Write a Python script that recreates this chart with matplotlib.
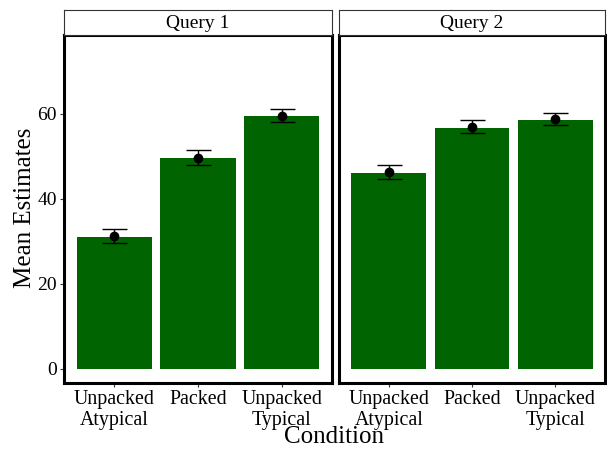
import matplotlib.pyplot as plt
import numpy as np

plt.rcParams['font.family'] = ['Liberation Serif', 'DejaVu Serif']

conditions = ['Unpacked\nAtypical', 'Packed', 'Unpacked\nTypical']
queries = ['Query 1', 'Query 2']
bar_q1 = [31.0, 49.7, 59.6]
bar_q2 = [46.1, 56.8, 58.6]
mean_q1 = [31.2, 49.7, 59.6]
mean_q2 = [46.3, 57.0, 58.8]
lo_q1 = [29.6, 48.0, 58.0]
hi_q1 = [32.8, 51.4, 61.2]
lo_q2 = [44.6, 55.4, 57.3]
hi_q2 = [48.0, 58.6, 60.3]

bars = [bar_q1, bar_q2]
means = [mean_q1, mean_q2]
los = [lo_q1, lo_q2]
his = [hi_q1, hi_q2]

fig = plt.figure(figsize=(6.07, 4.49), dpi=100)
W, H = 607, 449
panels = [(64, 332), (339, 605)]
top, bottom = 35, 383
strip_top = 10

x = np.arange(len(conditions))
for i, (l, r) in enumerate(panels):
    ax = fig.add_axes([l / W, 1 - bottom / H, (r - l) / W, (bottom - top) / H])
    ax.bar(x, bars[i], width=0.9, color='#006400')
    m = np.array(means[i])
    err = [m - np.array(los[i]), np.array(his[i]) - m]
    ax.errorbar(x, m, yerr=err, fmt='o', color='black', markersize=6,
                capsize=9, elinewidth=1, capthick=1)
    ax.set_xlim(-0.6, 2.6)
    ax.set_ylim(-3.4, 78.6)
    ax.set_xticks(x)
    ax.set_xticklabels(conditions, fontsize=14.3, linespacing=1.15)
    ax.set_yticks([0, 20, 40, 60])
    ax.tick_params(axis='both', color='#333333', length=3, width=0.8, pad=2)
    if i == 0:
        ax.set_yticklabels(['0', '20', '40', '60'], fontsize=14)
    else:
        ax.set_yticklabels([])
        ax.tick_params(axis='y', length=0)
    for s in ax.spines.values():
        s.set_linewidth(2.2)
        s.set_color('black')

    sax = fig.add_axes([l / W, 1 - top / H, (r - l) / W, (top - strip_top) / H])
    sax.set_xticks([])
    sax.set_yticks([])
    for s in sax.spines.values():
        s.set_linewidth(0.8)
        s.set_color('#333333')
    sax.text(0.5, 0.45, queries[i], ha='center', va='center', fontsize=14,
             transform=sax.transAxes)

fig.text(334 / W, 1 - 437 / H, 'Condition', ha='center', va='center', fontsize=18)
fig.text(25 / W, 1 - 208 / H, 'Mean Estimates', ha='center', va='center',
         fontsize=18, rotation=90)

fig.savefig('out.png', dpi=100)
